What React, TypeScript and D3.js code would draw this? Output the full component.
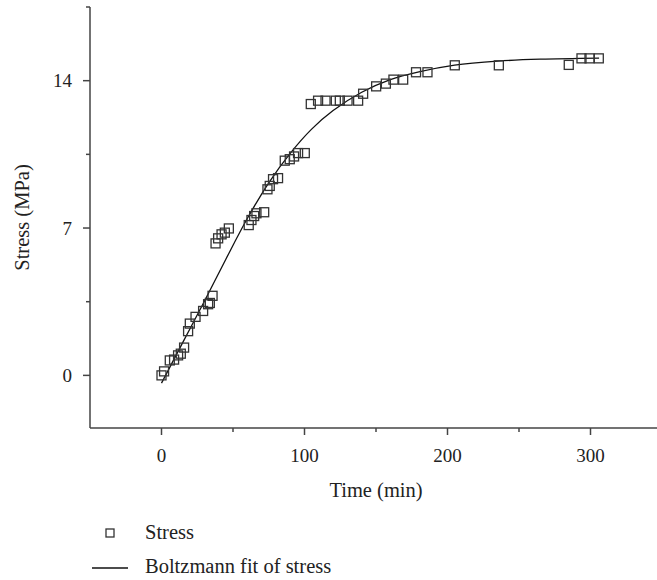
import React from "react";
import * as d3 from "d3";

const stressTime = [0, 1.8, 5.8, 8.8, 11.6, 13.5, 15.8, 18.6, 19.8, 23.8, 29.1, 32.6, 33.8, 35.7, 37.8, 39.6, 42, 44.3, 47.1, 61, 62.9, 64.8, 66.4, 71.8, 74.1, 75.7, 78, 81.5, 86.2, 89.7, 92.7, 95.5, 100.2, 104.4, 109.5, 114.7, 121.9, 124.7, 130.1, 137.5, 141, 150.1, 156.9, 162.2, 169, 178, 186, 205.1, 235.9, 284.8, 293.7, 299.3, 305.8];
const stressValue = [0, 0.19, 0.71, 0.75, 0.95, 1.03, 1.32, 2.1, 2.46, 2.78, 3.06, 3.38, 3.44, 3.78, 6.27, 6.51, 6.7, 6.78, 6.98, 7.14, 7.38, 7.57, 7.7, 7.75, 8.84, 9.0, 9.32, 9.37, 10.2, 10.27, 10.4, 10.56, 10.56, 12.89, 13.05, 13.05, 13.05, 13.05, 13.05, 13.05, 13.38, 13.73, 13.86, 14.05, 14.05, 14.4, 14.4, 14.73, 14.73, 14.75, 15.06, 15.06, 15.06];

const fitTime = [0, 15, 30, 45, 60, 75, 90, 105, 120, 140, 160, 180, 205, 235, 265, 306];
const fitValue = [-0.37, 1.58, 3.52, 5.52, 7.45, 9.15, 10.55, 11.7, 12.58, 13.45, 14.05, 14.42, 14.74, 14.93, 15.02, 15.07];

const xMajorTicks = [0, 100, 200, 300];
const xMinorTicks = [50, 150, 250];
const yMajorTicks = [0, 7, 14];
const yMinorTicks = [3.5, 10.5, 17.5];

const xLabel = "Time (min)";
const yLabel = "Stress (MPa)";
const legendLabels = ["Stress", "Boltzmann fit of stress"];

export default function App() {
  const W = 657, H = 580;
  const left = 90, right = 662, top = 7, bottom = 428;
  const x = d3.scaleLinear().domain([-50, 350]).range([left, right]);
  const y = d3.scaleLinear().domain([-2.5, 17.5]).range([bottom, top]);
  const axisColor = "#444";
  const font = "'Liberation Serif', 'Times New Roman', serif";
  const fs = 19;
  const fsL = 20.5;
  const sq = 9;

  const line = d3
    .line<number>()
    .x((_, i) => x(fitTime[i]))
    .y((d) => y(d))
    .curve(d3.curveCatmullRom.alpha(0.5));

  return (
    <svg width={W} height={H} style={{ position: "absolute", left: 0, top: 0, background: "#fff" }}>
      <rect x={0} y={0} width={W} height={H} fill="#fff" />
      <line x1={left} x2={left} y1={top} y2={bottom} stroke={axisColor} strokeWidth={1.5} />
      <line x1={left} x2={right} y1={bottom} y2={bottom} stroke={axisColor} strokeWidth={1.5} />
      {yMajorTicks.map((t) => (
        <g key={"ym" + t}>
          <line x1={left - 7} x2={left} y1={y(t)} y2={y(t)} stroke={axisColor} strokeWidth={1.5} />
          <text x={left - 18} y={y(t)} dy="0.35em" textAnchor="end" fontFamily={font} fontSize={fs} fill="#222">
            {t}
          </text>
        </g>
      ))}
      {yMinorTicks.map((t) => (
        <line key={"yn" + t} x1={left - 4} x2={left} y1={y(t)} y2={y(t)} stroke={axisColor} strokeWidth={1.5} />
      ))}
      {xMajorTicks.map((t) => (
        <g key={"xm" + t}>
          <line x1={x(t)} x2={x(t)} y1={bottom} y2={bottom + 7} stroke={axisColor} strokeWidth={1.5} />
          <text x={x(t)} y={bottom + 34} textAnchor="middle" fontFamily={font} fontSize={fs} fill="#222">
            {t}
          </text>
        </g>
      ))}
      {xMinorTicks.map((t) => (
        <line key={"xn" + t} x1={x(t)} x2={x(t)} y1={bottom} y2={bottom + 4} stroke={axisColor} strokeWidth={1.5} />
      ))}
      <text x={(left + right) / 2} y={497} textAnchor="middle" fontFamily={font} fontSize={fsL} fill="#222">
        {xLabel}
      </text>
      <text
        transform={`translate(29, ${(top + bottom) / 2}) rotate(-90)`}
        textAnchor="middle"
        fontFamily={font}
        fontSize={fsL}
        fill="#222"
      >
        {yLabel}
      </text>
      <path d={line(fitValue) || ""} fill="none" stroke="#111" strokeWidth={1.3} />
      {stressValue.map((v, i) => (
        <rect
          key={i}
          x={x(stressTime[i]) - sq / 2}
          y={y(v) - sq / 2}
          width={sq}
          height={sq}
          fill="none"
          stroke="#333"
          strokeWidth={1.3}
        />
      ))}
      <rect x={110 - 4} y={533 - 4} width={8} height={8} fill="none" stroke="#333" strokeWidth={1.3} />
      <text x={145} y={539} fontFamily={font} fontSize={fsL} fill="#222">
        {legendLabels[0]}
      </text>
      <line x1={92} x2={128} y1={568} y2={568} stroke="#111" strokeWidth={1.3} />
      <text x={145} y={573} fontFamily={font} fontSize={fsL} fill="#222">
        {legendLabels[1]}
      </text>
    </svg>
  );
}
